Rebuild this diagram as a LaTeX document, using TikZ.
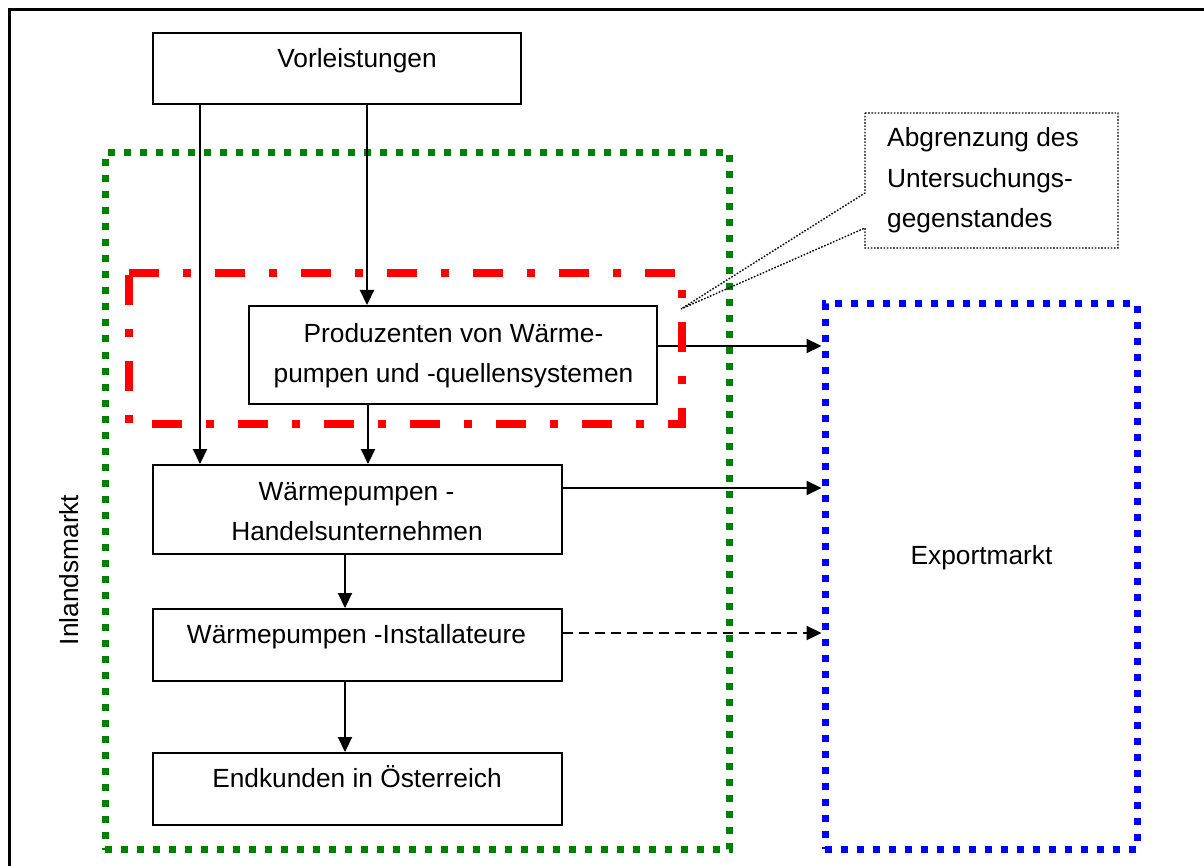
\documentclass[tikz,border=0pt]{standalone}
\usepackage{fontspec}
\setmainfont{Liberation Sans}
\usetikzlibrary{arrows.meta}
\definecolor{mkgreen}{RGB}{0,128,0}
\definecolor{mkblue}{RGB}{0,0,255}
\definecolor{mkred}{RGB}{255,0,0}
\begin{document}
\begin{tikzpicture}[x=1pt,y=-1pt,
  box/.style={draw=black, line width=2pt, inner sep=0pt},
  market/.style={draw=#1, line width=7pt, dash pattern=on 7pt off 9pt, inner sep=0pt},
  lbl/.style={anchor=base, inner sep=0pt, font=\fontsize{26.3}{40}\selectfont},
  lblw/.style={lbl, anchor=base west},
  arr/.style={line width=2.2pt, -{Triangle[width=14pt,length=15pt]}},
  darr/.style={arr, dash pattern=on 10pt off 6pt}]
\useasboundingbox (0,0) rectangle (1204,866);
\clip (0,0) rectangle (1204,866);

% page frame
\draw[line width=2.3pt] (9.5,9.5) rectangle (1240,900);

% markets
\node[market=mkgreen, minimum width=624.5pt, minimum height=696.5pt] (inland) at (417.25,501.25) {};
\node[market=mkblue, minimum width=312pt, minimum height=545pt] (export) at (981,576.5) {};

% boxes
\node[box, minimum width=368pt, minimum height=71pt] (vor) at (337,68.5) {};
\node[box, minimum width=408pt, minimum height=98pt] (prod) at (453,355) {};
\node[box, minimum width=409pt, minimum height=89pt] (handel) at (357.5,509.5) {};
\node[box, minimum width=409pt, minimum height=72pt] (inst) at (357.5,645) {};
\node[box, minimum width=409pt, minimum height=72pt] (end) at (357.5,789) {};

% flows inside the domestic market
\draw[arr] ([xshift=48pt]vor.south west) -- ([xshift=48pt]handel.north west);
\draw[arr] ([xshift=215pt]vor.south west) -- ([xshift=119pt]prod.north west);
\draw[arr] ([xshift=120pt]prod.south west) -- ([xshift=216pt]handel.north west);
\draw[arr] ([xshift=193pt]handel.south west) -- ([xshift=193pt]inst.north west);
\draw[arr] ([xshift=193pt]inst.south west) -- ([xshift=193pt]end.north west);

% flows to the export market
\coordinate (p1) at ([yshift=9pt]prod.east);
\coordinate (h1) at ([yshift=21.5pt]handel.east);
\coordinate (i1) at ([yshift=12pt]inst.east);
\draw[arr] (p1) -- (p1 -| export.west);
\draw[arr] (h1) -- (h1 -| export.west);
\draw[darr] (i1) -- (i1 -| export.west);

% boundary of the study object
\draw[mkred, line width=8pt, dash pattern=on 30pt off 24pt on 8pt off 24pt]
  (129,273) -- (682,273) -- (682,424) -- (129,424) -- cycle;

% callout
\draw[line width=1.4pt, dash pattern=on 1.6pt off 1.6pt]
  (865,113) -- (1118,113) -- (1118,248) -- (865,248) -- (865,228)
  -- (681,309) -- (865,193) -- cycle;
\node[lblw] (call1) at (887,147) {Abgrenzung des};
\node[lblw] (call2) at (887,188) {Untersuchungs-};
\node[lblw] (call3) at (887,228) {gegenstandes};

% texts
\node[lbl] (vor-t) at (357,68) {Vorleistungen};
\node[lbl] (prod-t1) at (453.5,342) {Produzenten von Wärme-};
\node[lbl] (prod-t2) at (453.5,382) {pumpen und -quellensystemen};
\node[lbl] (handel-t1) at (356.5,500) {Wärmepumpen -};
\node[lbl] (handel-t2) at (357,540) {Handelsunternehmen};
\node[lbl] (inst-t) at (356.5,643) {Wärmepumpen -Installateure};
\node[lbl] (end-t) at (357,787) {Endkunden in Österreich};
\node[lbl] (exp-t) at (981.5,564) {Exportmarkt};
\node[lbl, rotate=90] (inl-t) at (78,570) {Inlandsmarkt};
\end{tikzpicture}
\end{document}
